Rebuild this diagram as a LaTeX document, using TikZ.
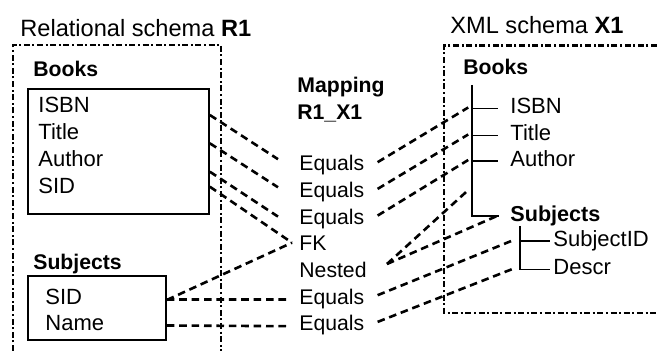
\documentclass[tikz,border=0pt]{standalone}
\usepackage{fontspec}
\setmainfont{Liberation Sans}
\usetikzlibrary{calc,positioning}
\tikzset{
  schemaframe/.style={line width=1.2pt,dash pattern=on 3pt off 1.3pt on 1pt off 1.3pt},
  maplink/.style={line width=1.3pt,dash pattern=on 3.8pt off 2.4pt},
  treeline/.style={line width=0.9pt},
  relbox/.style={draw,line width=0.9pt,inner sep=0pt,anchor=north west},
  field/.style={anchor=west,inner sep=0pt,text height=7.5pt,text depth=2pt,font=\fontsize{11}{13}\selectfont},
  entry/.style={field,font=\fontsize{10.6}{13}\selectfont},
  heading/.style={anchor=base west,inner sep=0pt,font=\fontsize{10.6}{13}\selectfont\bfseries},
  caption/.style={anchor=base west,inner sep=0pt,font=\fontsize{11.8}{14}\selectfont}
}
\begin{document}
\begin{tikzpicture}[x=0.5pt,y=-0.5pt]
  \useasboundingbox (0,0) rectangle (657,351);
  % relational side
  \node[caption] (relTitle) at (20,36.7) {Relational schema \textbf{R1}};
  \draw[schemaframe] (13,351) -- (13,45) -- (221,45) -- (221,351);
  \node[heading] (booksHead) at (33,76.5) {Books};
  \node[relbox,minimum width=90.5pt,minimum height=62.5pt] (booksR) at (27,88) {};
  \foreach \n/\t [count=\i from 0] in {bIsbn/ISBN,bTitle/Title,bAuthor/Author,bSid/SID}
    \node[field] (\n) at (38,107.5+26.8*\i) {\t};
  \node[heading] (subjHead) at (33,270) {Subjects};
  \node[relbox,minimum width=69pt,minimum height=32pt] (subjR) at (27,275) {};
  \node[field] (sSid) at (45,299.5) {SID};
  \node[field] (sName) at (45,325.5) {Name};
  % mapping
  \node[heading] (mapHead) at (297,93) {Mapping};
  \node[heading] (mapName) at (297,120) {R1\_X1};
  \foreach \n/\t [count=\i from 0] in {mIsbn/Equals,mTitle/Equals,mAuthor/Equals,mFk/FK,mNested/Nested,mSid/Equals,mName/Equals}
    \node[entry] (\n) at (299,165.2+26.7*\i) {\t};
  % xml side
  \node[caption] (xmlTitle) at (450,33.3) {XML schema \textbf{X1}};
  \draw[schemaframe] (657,45.7) -- (444,45.7) -- (444,313) -- (657,313);
  \node[heading] (booksXHead) at (463,75) {Books};
  \node[field] (xIsbn) at (510,108.5) {ISBN};
  \node[field] (xTitle) at (510,135.5) {Title};
  \node[field] (xAuthor) at (510,161) {Author};
  \node[field,font=\fontsize{10.8}{13}\selectfont\bfseries] (xSubj) at (510,216) {Subjects};
  \node[field] (xSubjId) at (553,241) {SubjectID};
  \node[field] (xDescr) at (553,269.5) {Descr};
  \coordinate (bTop) at (471.7,85);
  \coordinate (sTop) at (520,226);
  \coordinate (bJoin) at (468.3,190);
  \draw[treeline] (bTop) -- (bTop |- xSubj.west) -- ([xshift=-5.5pt]xSubj.west);
  \foreach \n in {xIsbn,xTitle,xAuthor}
    \draw[treeline] (bTop |- \n.west) -- ([xshift=-6pt]\n.west);
  \draw[treeline] (sTop) -- (sTop |- xDescr.west) -- ([xshift=-1.5pt]xDescr.west);
  \draw[treeline] (sTop |- xSubjId.west) -- ([xshift=-1.5pt]xSubjId.west);
  % mapping links
  \foreach \a/\da/\b/\db in {bIsbn/7.5/mIsbn/-6,bTitle/9/mTitle/-4.6,bAuthor/10.6/mAuthor/-2}
    \draw[maplink] ($(booksR.east |- \a.west)+(0,\da)$) -- ($(\b.west)+(-21,\db)$);
  \draw[maplink] ($(booksR.east |- bSid.west)+(0,-1.2)$) -- ($(mFk.west)+(-7,-2.6)$);
  \draw[maplink] ($(subjR.east |- sSid.west)+(0,0.5)$) -- ($(mFk.west)+(-7,-2.6)$);
  \draw[maplink] (subjR.east |- sSid.west) -- ($(mSid.west)+(-11,0.8)$);
  \draw[maplink] (subjR.east |- sName.west) -- ($(mName.west)+(-11,0.8)$);
  \foreach \a/\b in {mIsbn/xIsbn,mTitle/xTitle,mAuthor/xAuthor}
    \draw[maplink] ($(\a.east)+(13,-3)$) -- ($(bTop |- \b.west)+(-3.5,-1)$);
  \draw[maplink] ($(mNested.east)+(20,-8)$) -- (bJoin);
  \draw[maplink] ($(mNested.east)+(20,-8)$) -- ([xshift=-6.5pt]xSubj.west);
  \foreach \a/\b in {mSid/xSubjId,mName/xDescr}
    \draw[maplink] ($(\a.east)+(13,-3.5)$) -- ($(sTop |- \b.west)+(-5,-1.5)$);
\end{tikzpicture}
\end{document}
